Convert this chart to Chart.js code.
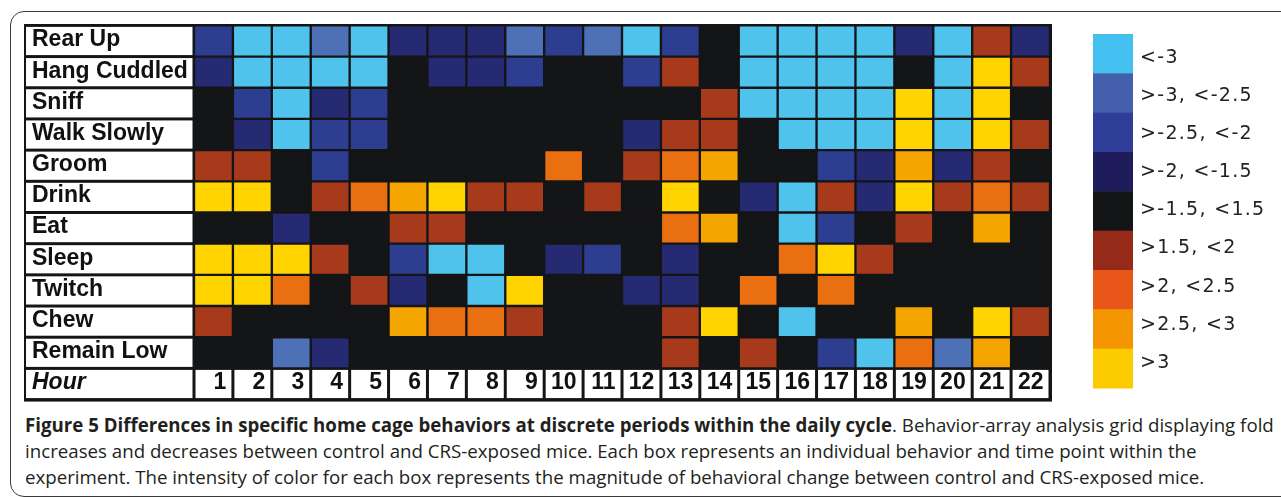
<!DOCTYPE html>
<html>
<head>
<meta charset="utf-8">
<title>Figure 5</title>
<script src="https://cdn.jsdelivr.net/npm/chart.js@4.4.0/dist/chart.umd.min.js"></script>
<style>
  html, body { margin: 0; padding: 0; background: #fff; }
  body { width: 1281px; height: 497px; position: relative; overflow: hidden; }
  #moldura { position: absolute; left: 10px; top: 11px; width: 1300px; height: 484px; border: 1.5px solid #3a3a3a; border-radius: 14px; }
  #grafico { position: absolute; left: 0; top: 0; }
  #legenda { position: absolute; left: 25px; top: 412px; font-family: "Open Sans"; font-size: 18.7px; line-height: 26px; color: #231f20; white-space: nowrap; }
</style>
</head>
<body>
<div id="moldura"></div>
<canvas id="grafico" width="1281" height="405"></canvas>
<div id="legenda"><b>Figure 5 Differences in specific home cage behaviors at discrete periods within the daily cycle</b>. Behavior-array analysis grid displaying fold<br>increases and decreases between control and CRS-exposed mice. Each box represents an individual behavior and time point within the<br>experiment. The intensity of color for each box represents the magnitude of behavioral change between control and CRS-exposed mice.</div>
<script>
// comportamentos (linhas) e horas (colunas)
const comportamentos = ['Rear Up', 'Hang Cuddled', 'Sniff', 'Walk Slowly', 'Groom', 'Drink', 'Eat', 'Sleep', 'Twitch', 'Chew', 'Remain Low'];
const horas = ['1', '2', '3', '4', '5', '6', '7', '8', '9', '10', '11', '12', '13', '14', '15', '16', '17', '18', '19', '20', '21', '22'];

// fold change estimado por hora
const rearUp      = [-2.25, -3.5, -3.5, -2.75, -3.5, -1.75, -1.75, -1.75, -2.75, -2.25, -2.75, -3.5, -2.25, 0, -3.5, -3.5, -3.5, -3.5, -1.75, -3.5, 1.75, -1.75];
const hangCuddled = [-1.75, -3.5, -3.5, -3.5, -3.5, 0, -1.75, -1.75, -2.25, 0, 0, -2.25, 1.75, 0, -3.5, -3.5, -3.5, -3.5, 0, -3.5, 3.5, 1.75];
const sniff       = [0, -2.25, -3.5, -1.75, -2.25, 0, 0, 0, 0, 0, 0, 0, 0, 1.75, -3.5, -3.5, -3.5, -3.5, 3.5, -3.5, 3.5, 0];
const walkSlowly  = [0, -1.75, -3.5, -2.25, -2.25, 0, 0, 0, 0, 0, 0, -1.75, 1.75, 1.75, 0, -3.5, -3.5, -3.5, 3.5, -3.5, 3.5, 1.75];
const groom       = [1.75, 1.75, 0, -2.25, 0, 0, 0, 0, 0, 2.25, 0, 1.75, 2.25, 2.75, 0, 0, -2.25, -1.75, 2.75, -1.75, 1.75, 0];
const drink       = [3.5, 3.5, 0, 1.75, 2.25, 2.75, 3.5, 1.75, 1.75, 0, 1.75, 0, 3.5, 0, -1.75, -3.5, 1.75, -1.75, 3.5, 1.75, 2.25, 1.75];
const eat         = [0, 0, -1.75, 0, 0, 1.75, 1.75, 0, 0, 0, 0, 0, 2.25, 2.75, 0, -3.5, -2.25, 0, 1.75, 0, 2.75, 0];
const sleep       = [3.5, 3.5, 3.5, 1.75, 0, -2.25, -3.5, -3.5, 0, -1.75, -2.25, 0, -1.75, 0, 0, 2.25, 3.5, 1.75, 0, 0, 0, 0];
const twitch      = [3.5, 3.5, 2.25, 0, 1.75, -1.75, 0, -3.5, 3.5, 0, 0, -1.75, -1.75, 0, 2.25, 0, 2.25, 0, 0, 0, 0, 0];
const chew        = [1.75, 0, 0, 0, 0, 2.75, 2.25, 2.25, 1.75, 0, 0, 0, 1.75, 3.5, 0, -3.5, 0, 0, 2.75, 0, 3.5, 1.75];
const remainLow   = [0, 0, -2.75, -1.75, 0, 0, 0, 0, 0, 0, 0, 0, 1.75, 0, 1.75, 0, -2.25, -3.5, 2.25, -2.75, 2.75, 0];

const valores = [rearUp, hangCuddled, sniff, walkSlowly, groom, drink, eat, sleep, twitch, chew, remainLow];

// escala de cores
const limites = [-3, -2.5, -2, -1.5, 1.5, 2, 2.5, 3];
const faixasTexto = ['<-3', '>-3, <-2.5', '>-2.5, <-2', '>-2, <-1.5', '>-1.5, <1.5', '>1.5, <2', '>2, <2.5', '>2.5, <3', '>3'];
const coresCelula = ['#4fc3ec', '#4e70b7', '#2d3e91', '#262a73', '#141517', '#a83a1c', '#e96f10', '#f5a500', '#ffd400'];
const coresEscala = ['#43c0ef', '#4460ad', '#2f3e98', '#1e1c5b', '#141517', '#952a19', '#e9561a', '#f29500', '#fccb00'];

function faixaDoValor(v) {
  let i = limites.findIndex(l => v < l);
  return i < 0 ? limites.length : i;
}

const fundo = '#141517';

const datasets = comportamentos.map((nome, linha) => ({
  label: nome,
  data: horas.map((h, col) => ({ x: h, y: [linha, linha + 1] })),
  backgroundColor: valores[linha].map(v => coresCelula[faixaDoValor(v)]),
  borderColor: fundo,
  borderWidth: 1.5,
  borderSkipped: false,
  grouped: false,
  categoryPercentage: 1,
  barPercentage: 1
}));

// desenha o painel preto, as caixas de texto e a escala
const painelFigura = {
  id: 'painelFigura',
  beforeDraw(chart) {
    const { ctx, chartArea: area, scales: { x, y } } = chart;
    const passoLinha = y.getPixelForValue(1) - y.getPixelForValue(0);
    const passoCol = x.getPixelForValue(1) - x.getPixelForValue(0);
    const fimHora = area.bottom + passoLinha;

    ctx.save();
    ctx.fillStyle = fundo;
    ctx.fillRect(24, 24, area.right + 2 - 24, fimHora + 2 - 24);

    ctx.fillStyle = '#fff';
    ctx.textBaseline = 'alphabetic';

    // nomes dos comportamentos
    comportamentos.forEach((nome, i) => {
      const topo = y.getPixelForValue(i);
      const base = y.getPixelForValue(i + 1);
      ctx.fillStyle = '#fff';
      ctx.fillRect(26, topo + 1.5, area.left - 1.5 - 26, base - topo - 3);
      ctx.fillStyle = '#111';
      ctx.font = 'bold 23px "Liberation Sans"';
      ctx.textAlign = 'left';
      ctx.fillText(nome, 32, topo + 21);
    });

    // linha das horas
    ctx.fillStyle = '#fff';
    ctx.fillRect(26, area.bottom + 1.5, area.left - 1.5 - 26, passoLinha - 3);
    ctx.fillStyle = '#111';
    ctx.font = 'italic bold 23px "Liberation Sans"';
    ctx.fillText('Hour', 32, area.bottom + 21);

    ctx.font = 'bold 23px "Liberation Sans"';
    ctx.textAlign = 'right';
    horas.forEach((h, col) => {
      const cx = x.getPixelForValue(col);
      const esq = cx - passoCol / 2 + 1.5;
      const dir = cx + passoCol / 2 - 1.5;
      ctx.fillStyle = '#fff';
      ctx.fillRect(esq, area.bottom + 1.5, dir - esq, passoLinha - 3);
      ctx.fillStyle = '#111';
      ctx.fillText(h, dir - 5, area.bottom + 21);
    });

    // escala de cores a direita
    const topoEscala = 34, fimEscala = 388;
    const alturaFaixa = (fimEscala - topoEscala) / coresEscala.length;
    coresEscala.forEach((cor, i) => {
      ctx.fillStyle = cor;
      ctx.fillRect(1093, topoEscala + i * alturaFaixa, 40, alturaFaixa + 0.5);
    });
    ctx.fillStyle = '#222';
    ctx.font = '19px "DejaVu Sans"';
    ctx.letterSpacing = '1.3px';
    ctx.textAlign = 'left';
    ctx.textBaseline = 'middle';
    faixasTexto.forEach((t, i) => {
      ctx.fillText(t, 1140, 58 + i * 38.1);
    });
    ctx.restore();
  }
};

new Chart(document.getElementById('grafico'), {
  type: 'bar',
  data: { labels: horas, datasets: datasets },
  options: {
    responsive: false,
    animation: false,
    devicePixelRatio: 1,
    layout: { padding: { left: 194, right: 231, top: 25.4, bottom: 36.6 } },
    scales: {
      x: { type: 'category', display: false, offset: true },
      y: { type: 'linear', display: false, min: 0, max: 11, reverse: true }
    },
    plugins: {
      legend: { display: false },
      tooltip: { enabled: false }
    }
  },
  plugins: [painelFigura]
});
</script>
</body>
</html>
